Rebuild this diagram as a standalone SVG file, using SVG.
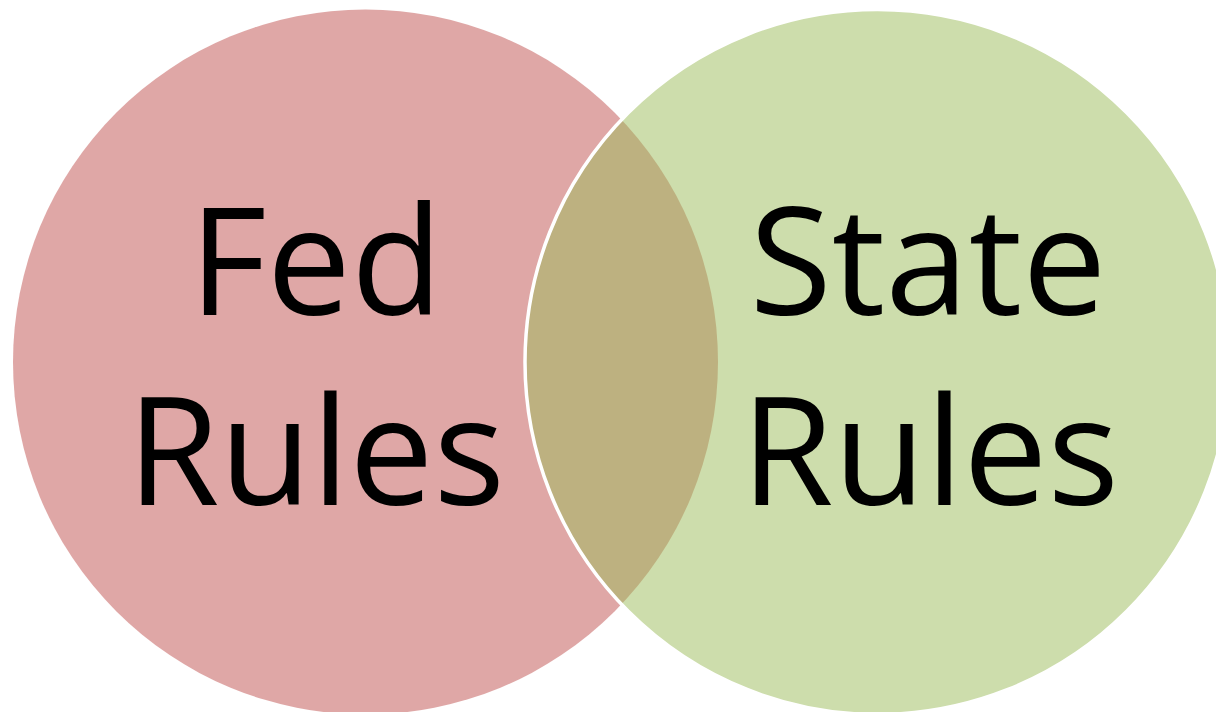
<svg xmlns="http://www.w3.org/2000/svg" width="1216" height="712" viewBox="0 0 1216 712">
<style>
.lbl{font-family:"Open Sans","Liberation Sans",sans-serif;font-size:150px;font-weight:500;fill:#000;text-anchor:middle}
</style>
<rect width="1216" height="712" fill="#fff"/>
<g id="fed">
<circle cx="365.5" cy="362" r="352.5" fill="#C0504D" fill-opacity="0.5"/>
<text class="lbl" x="316" y="315">Fed</text>
<text class="lbl" x="316" y="505">Rules</text>
</g>
<g id="state">
<circle cx="877.5" cy="362" r="352.5" fill="#9BBB59" fill-opacity="0.5" stroke="#fff" stroke-width="3.5"/>
<text class="lbl" x="928" y="315">State</text>
<text class="lbl" x="930" y="505">Rules</text>
</g>
<g id="connectors"/>
</svg>
